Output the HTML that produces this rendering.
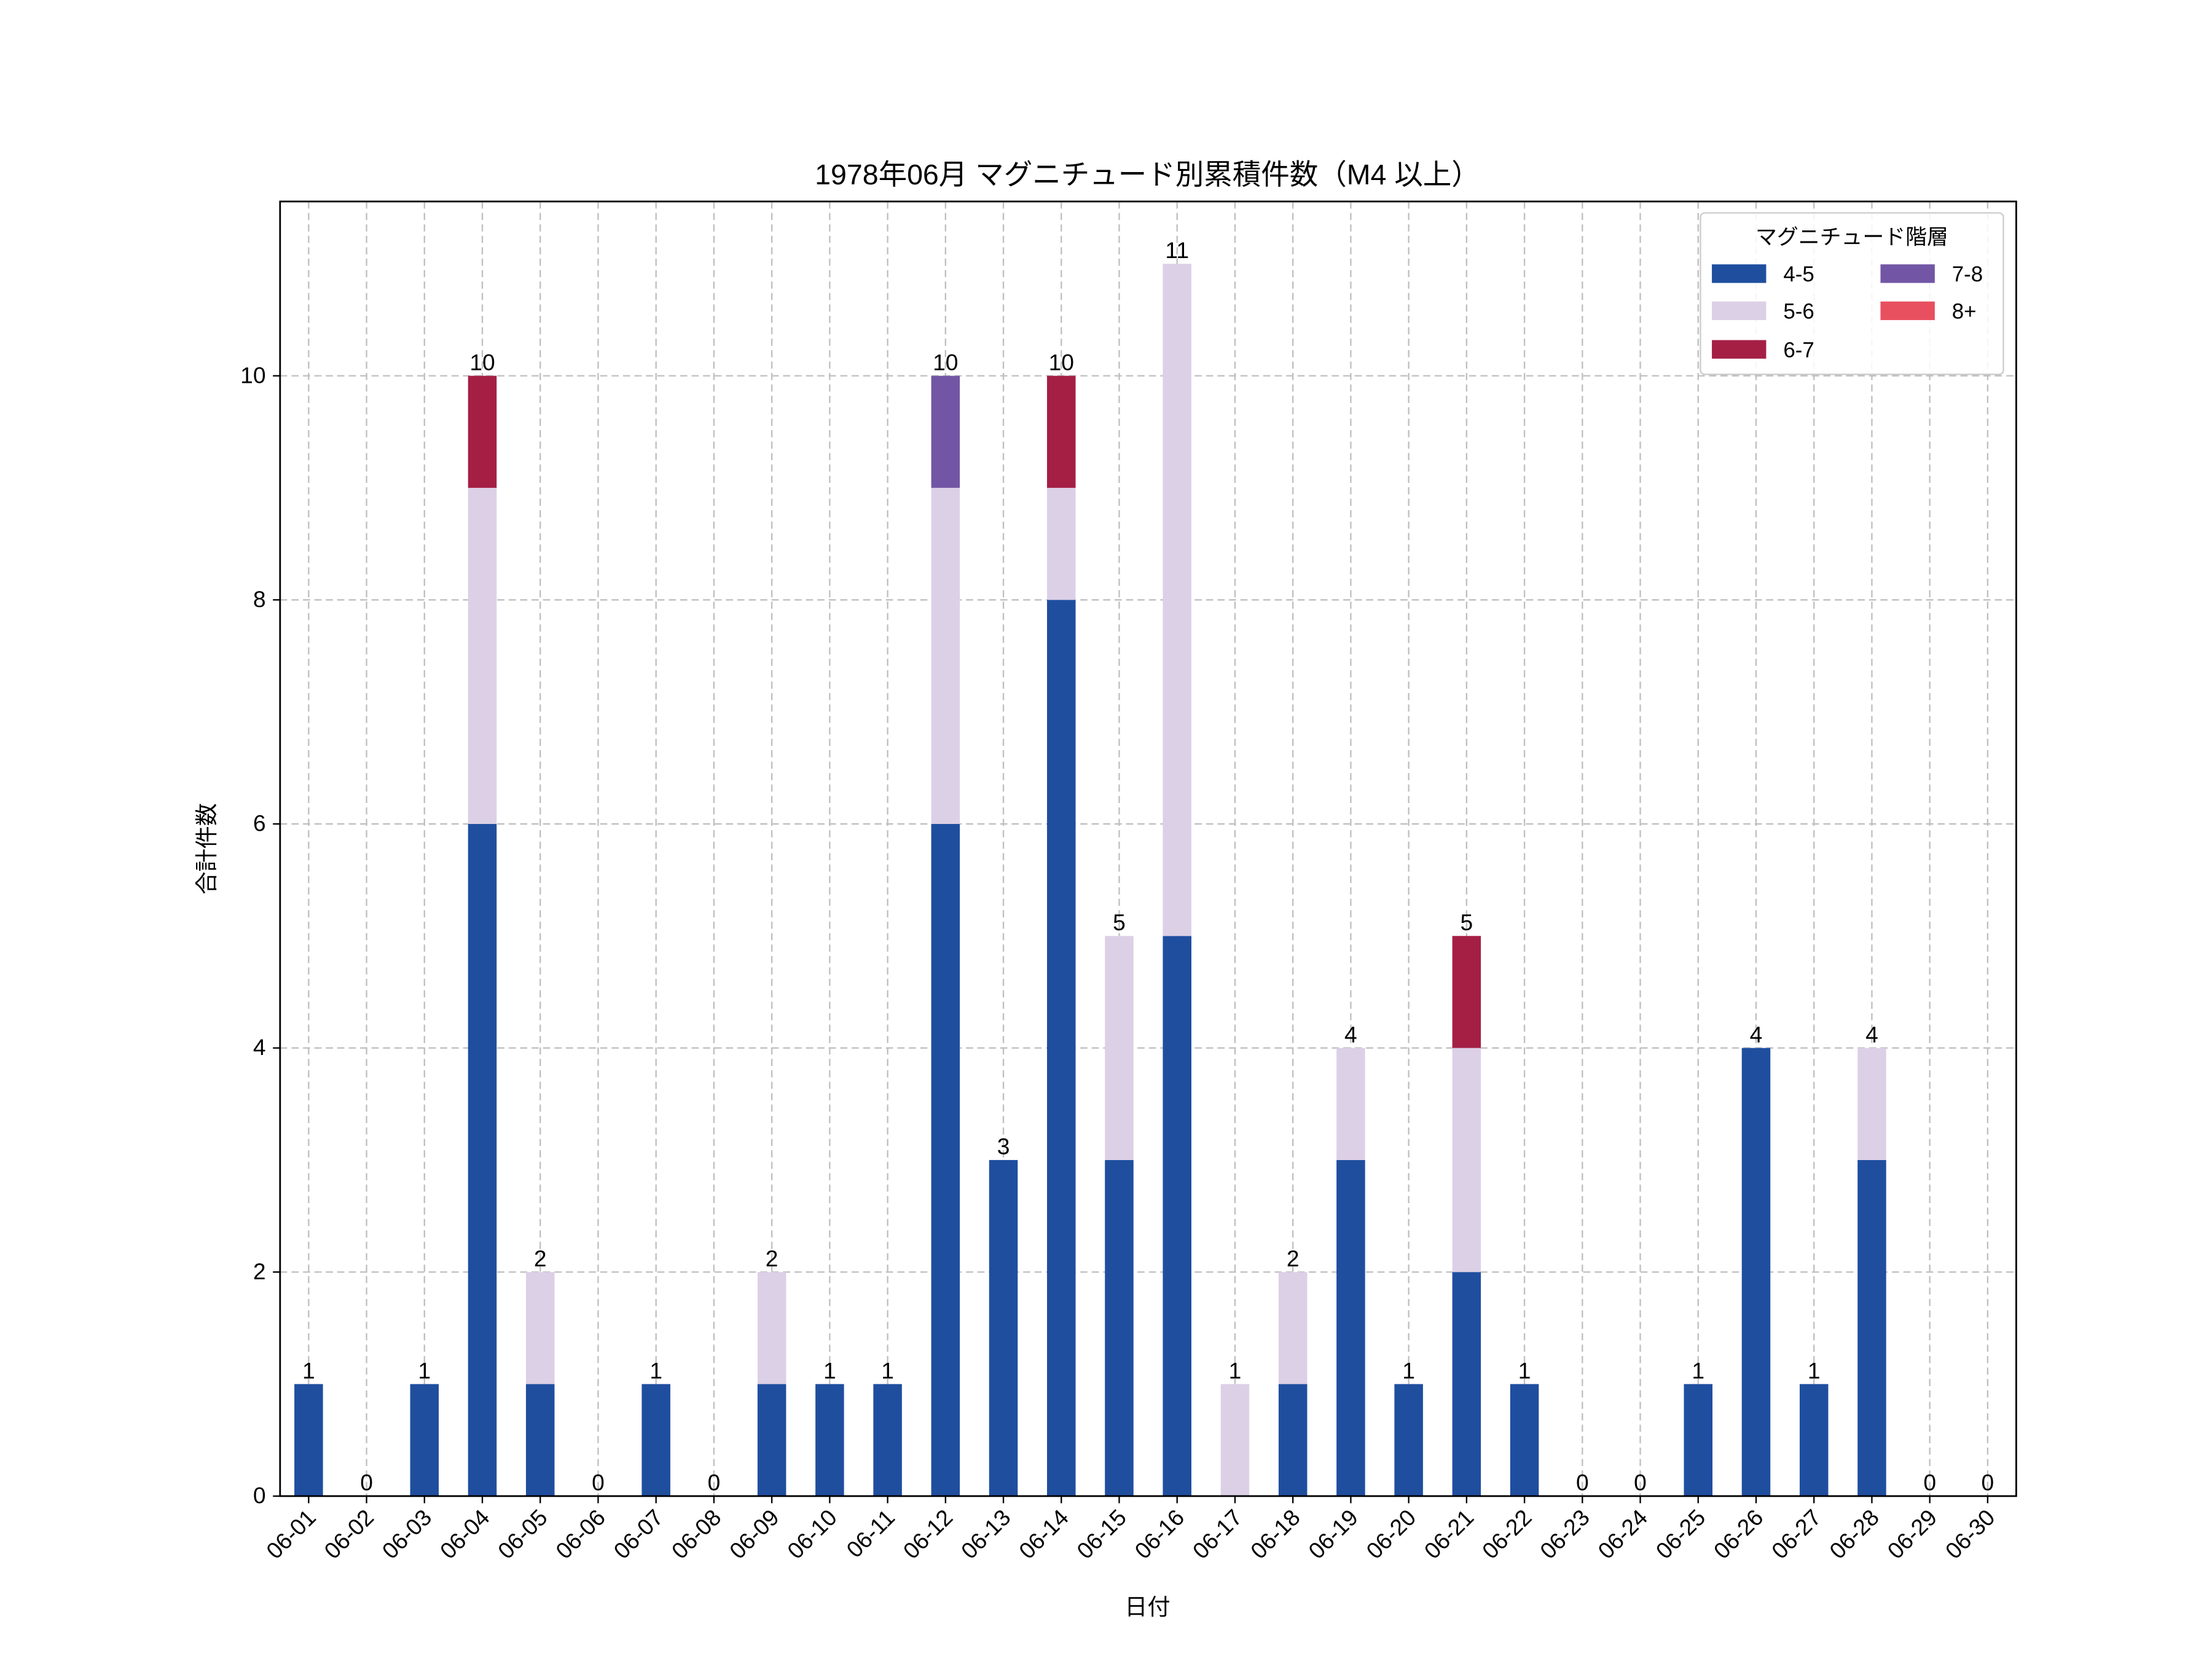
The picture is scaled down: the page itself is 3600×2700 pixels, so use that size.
<!DOCTYPE html>
<html><head><meta charset="utf-8"><style>
html,body{margin:0;padding:0;background:#fff;}
svg{display:block;}
text{font-family:"Liberation Sans","Noto Sans CJK JP",sans-serif;fill:#000;}
</style></head><body>
<svg width="3600" height="2700" viewBox="0 0 1548 1161" xmlns="http://www.w3.org/2000/svg">
<rect width="1548" height="1161" fill="#fff"/>
<g id="grid" stroke="#bfbfbf" stroke-width="1" stroke-dasharray="5,3"></g>
<g id="bars"></g>
<g id="labels" font-size="16" text-anchor="middle"></g>
<rect x="196" y="141" width="1215" height="906" fill="none" stroke="#000" stroke-width="1.2"/>
<g id="ticks" font-size="16"></g>
<text x="803" y="129" font-size="20" text-anchor="middle">1978年06月 マグニチュード別累積件数（M4 以上）</text>
<text x="803" y="1130" font-size="16" text-anchor="middle">日付</text>
<text transform="translate(150,594) rotate(-90)" font-size="16" text-anchor="middle">合計件数</text>
<g>
<rect x="1190" y="149" width="212" height="113" fill="#fff" fill-opacity="0.85" stroke="#ccc" rx="3"/>
<text x="1296" y="171" font-size="15" text-anchor="middle">マグニチュード階層</text>
<rect x="1198" y="185" width="38" height="13" fill="#1f4e9f"/><text x="1248" y="197" font-size="15">4-5</text>
<rect x="1198" y="211" width="38" height="13" fill="#dcd0e6"/><text x="1248" y="223" font-size="15">5-6</text>
<rect x="1198" y="238" width="38" height="13" fill="#a51f45"/><text x="1248" y="250" font-size="15">6-7</text>
<rect x="1316" y="185" width="38" height="13" fill="#7256a5"/><text x="1366" y="197" font-size="15">7-8</text>
<rect x="1316" y="211" width="38" height="13" fill="#e8505f"/><text x="1366" y="223" font-size="15">8+</text>
</g>
</svg>
<script>
const data=[[1],[0],[1],[6,3,1],[1,1],[0],[1],[0],[1,1],[1],[1],[6,3,0,1],[3],[8,1,1],[3,2],[5,6],[0,1],[1,1],[3,1],[1],[2,2,1],[1],[0],[0],[1],[4],[1],[3,1],[0],[0]];
const cols=["#1f4e9f","#dcd0e6","#a51f45","#7256a5","#e8505f"];
const ns="http://www.w3.org/2000/svg";
const y0=1047,u=78.4,x0=216,dx=(1391-216)/29,bw=20;
function el(t,a,p,txt){const e=document.createElementNS(ns,t);for(const k in a)e.setAttribute(k,a[k]);if(txt!==undefined)e.textContent=txt;document.getElementById(p).appendChild(e);return e;}
for(let v=0;v<=10;v+=2){const y=y0-v*u;el("line",{x1:196,x2:1411,y1:y,y2:y},"grid");
el("line",{x1:191,x2:196,y1:y,y2:y,stroke:"#000"},"ticks");
el("text",{x:186,y:y+5,"text-anchor":"end"},"ticks",String(v));}
data.forEach((d,i)=>{const x=x0+i*dx;
el("line",{x1:x,x2:x,y1:141,y2:1047},"grid");
let acc=0;d.forEach((v,j)=>{if(v>0){el("rect",{x:x-bw/2,y:y0-(acc+v)*u,width:bw,height:v*u,fill:cols[j]},"bars");}acc+=v;});
el("text",{x:x,y:y0-acc*u-4},"labels",String(acc));
el("line",{x1:x,x2:x,y1:1047,y2:1052,stroke:"#000"},"ticks");
const dd=String(i+1).padStart(2,"0");
el("text",{transform:`translate(${x+6},${1063}) rotate(-45)`,"text-anchor":"end"},"ticks","06-"+dd);
});
</script>
</body></html>
